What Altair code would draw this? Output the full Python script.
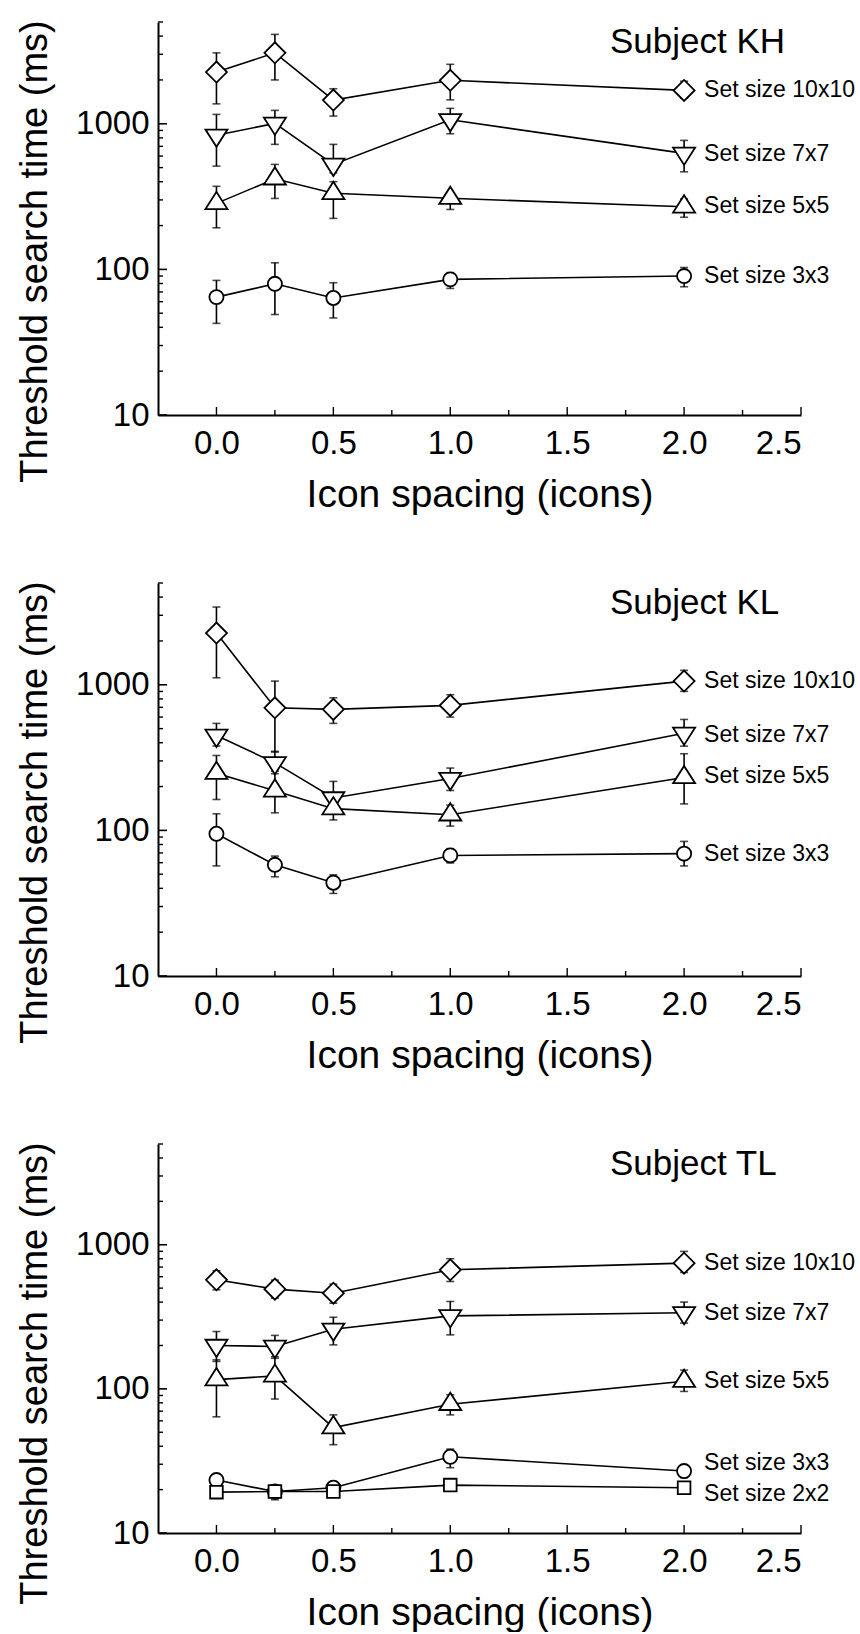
import altair as alt
import pandas as pd

FONT = "Liberation Sans"

# ---------------- data ----------------
spacing = [0.0, 0.25, 0.5, 1.0, 2.0]

# Subject KH
kh_10x10 = [2265, 3070, 1455, 1990, 1695]
kh_10x10_lo = [1370, 2000, 1130, 1460, 1500]
kh_10x10_hi = [3070, 4110, 1740, 2560, 1960]
kh_7x7 = [834, 1006, 526, 1065, 626]
kh_7x7_lo = [512, 722, 460, 854, 468]
kh_7x7_hi = [1160, 1236, 722, 1276, 769]
kh_5x5 = [284, 419, 333, 308, 269]
kh_5x5_lo = [193, 307, 224, 258, 228]
kh_5x5_hi = [372, 526, 400, 330, 305]
kh_3x3 = [64.5, 79.6, 63.6, 85.4, 90]
kh_3x3_lo = [42.6, 49, 46.4, 74, 76]
kh_3x3_hi = [84, 111, 81, 95, 103]
kh_label_at = [1695, 616, 272, 90]

# Subject KL
kl_10x10 = [2265, 695, 678, 722, 1060]
kl_10x10_lo = [1117, 345, 543, 600, 901]
kl_10x10_hi = [3419, 1060, 814, 854, 1256]
kl_7x7 = [449, 291, 167, 227, 464]
kl_7x7_lo = [380, 255, 140, 188, 379]
kl_7x7_hi = [543, 349, 217, 268, 578]
kl_5x5 = [247, 187, 141, 128, 231]
kl_5x5_lo = [163, 132, 118, 107, 152]
kl_5x5_hi = [327, 245, 165, 149, 336]
kl_3x3 = [94.8, 58, 43.7, 67.3, 69.2]
kl_3x3_lo = [57, 48, 36.9, 59.8, 57]
kl_3x3_hi = [130, 66.6, 49.5, 74.9, 84]
kl_label_at = [1060, 453, 236, 68.5]

# Subject TL
tl_10x10 = [571, 492, 461, 670, 745]
tl_10x10_lo = [487, 426, 393, 556, 642]
tl_10x10_hi = [660, 568, 533, 800, 899]
tl_7x7 = [200, 197, 259, 321, 337]
tl_7x7_lo = [155, 163, 202, 237, 286]
tl_7x7_hi = [250, 235, 314, 404, 400]
tl_5x5 = [116, 123, 53.9, 78.2, 113]
tl_5x5_lo = [64, 85, 41, 66, 96]
tl_5x5_hi = [159, 167, 66, 91, 135]
tl_3x3 = [23.3, 19.4, 20.6, 33.8, 26.9]
tl_3x3_lo = [20.4, 17.9, 18.9, 28.4, 24.2]
tl_3x3_hi = [25.2, 21.0, 22.7, 38.2, 29.6]
tl_2x2 = [19.2, 19.4, 19.4, 21.5, 20.6]
tl_2x2_lo = [17.9, 17.0, 18.4, 20.6, 20.0]
tl_2x2_hi = [20.6, 20.4, 20.4, 22.4, 21.2]
tl_label_at = [745, 337, 113, 30.4, 18.6]

# axis ticks
x_major = [0.0, 0.5, 1.0, 1.5, 2.0, 2.5]
x_minor = [0.25, 0.75, 1.25, 1.75, 2.25]
y_major = [10, 100, 1000]
y_minor = [20, 30, 40, 50, 60, 70, 80, 90,
           200, 300, 400, 500, 600, 700, 800, 900,
           2000, 3000, 4000, 5000]

TRI_UP = "M-1,0.52L1,0.52L0,-1.05Z"
TRI_DOWN = "M-1,-0.52L1,-0.52L0,1.05Z"
marker_style = {
    "10x10": ("diamond", 441),
    "7x7": (TRI_DOWN, 484),
    "5x5": (TRI_UP, 484),
    "3x3": ("circle", 200),
    "2x2": ("square", 160),
}


def make_df(series):
    rows = []
    for name, (m, lo, hi) in series.items():
        for x, a, b, c in zip(spacing, m, lo, hi):
            rows.append({"x": x, "mean": a, "lo": b, "hi": c, "size": name})
    return pd.DataFrame(rows)


def panel(title, series, label_at, h):
    df = make_df(series)
    names = list(series.keys())
    lab = pd.DataFrame({"x": [2.0] * len(names), "v": label_at,
                        "text": ["Set size " + n for n in names]})

    xs = alt.Scale(domain=[-0.25, 2.5], nice=False, zero=False)
    ys = alt.Scale(type="log", domain=[10, 5000], nice=False)
    xaxis = alt.Axis(values=x_major, format=".1f", ticks=False, grid=False,
                     labelFontSize=33, labelPadding=12,
                     title="Icon spacing (icons)", titleFontSize=39,
                     titleFontWeight="normal", titleY=91,
                     titleBaseline="alphabetic")
    yaxis = alt.Axis(values=y_major, format="d", ticks=False, grid=False,
                     labelFontSize=33, labelPadding=9,
                     title="Threshold search time (ms)", titleFontSize=38,
                     titleFontWeight="normal", titleX=-112, titleY=229,
                     titleAngle=-90, titleAlign="center",
                     titleBaseline="alphabetic")
    X = alt.X("x:Q", scale=xs, axis=xaxis)

    base = alt.Chart(df)
    lines = base.mark_line(color="black", strokeWidth=1.6).encode(
        x=X, y=alt.Y("mean:Q", scale=ys, axis=yaxis), detail="size:N")
    bars = base.mark_rule(color="black", strokeWidth=1.6).encode(
        x=X, y=alt.Y("lo:Q", scale=ys, axis=yaxis), y2="hi:Q")
    cap_lo = base.mark_tick(color="black", orient="horizontal", size=8, thickness=1.6).encode(
        x=X, y=alt.Y("lo:Q", scale=ys, axis=yaxis))
    cap_hi = base.mark_tick(color="black", orient="horizontal", size=8, thickness=1.6).encode(
        x=X, y=alt.Y("hi:Q", scale=ys, axis=yaxis))

    pts = []
    for n in names:
        shp, sz = marker_style[n]
        pts.append(alt.Chart(df[df["size"] == n]).mark_point(
            shape=shp, size=sz, filled=True, fill="white", stroke="black",
            strokeWidth=1.8, opacity=1).encode(
            x=X, y=alt.Y("mean:Q", scale=ys, axis=yaxis)))

    ymaj = alt.Chart(pd.DataFrame({"v": y_major})).mark_rule(color="black", strokeWidth=1.6).encode(
        y=alt.Y("v:Q", scale=ys, axis=yaxis), x=alt.value(0), x2=alt.value(9))
    ymin = alt.Chart(pd.DataFrame({"v": y_minor})).mark_rule(color="black", strokeWidth=1.4).encode(
        y=alt.Y("v:Q", scale=ys, axis=yaxis), x=alt.value(0), x2=alt.value(5))
    xmaj = alt.Chart(pd.DataFrame({"x": x_major})).mark_rule(color="black", strokeWidth=1.4).encode(
        x=X, y=alt.value(h), y2=alt.value(h - 8))
    xmin = alt.Chart(pd.DataFrame({"x": x_minor})).mark_rule(color="black", strokeWidth=1.4).encode(
        x=X, y=alt.value(h), y2=alt.value(h - 5))

    labels = alt.Chart(lab).mark_text(align="left", baseline="middle", dx=20,
                                      fontSize=23, font=FONT, color="black").encode(
        x=X, y=alt.Y("v:Q", scale=ys, axis=yaxis), text="text:N")
    ttl = alt.Chart(pd.DataFrame({"t": [title]})).mark_text(
        align="left", baseline="alphabetic", fontSize=35, font=FONT, color="black").encode(
        text="t:N", x=alt.value(452), y=alt.value(31))

    return alt.layer(lines, bars, cap_lo, cap_hi, ymaj, ymin, xmaj, xmin, *pts, labels, ttl
                     ).properties(width=643, height=h)


p1 = panel("Subject KH", {
    "10x10": (kh_10x10, kh_10x10_lo, kh_10x10_hi),
    "7x7": (kh_7x7, kh_7x7_lo, kh_7x7_hi),
    "5x5": (kh_5x5, kh_5x5_lo, kh_5x5_hi),
    "3x3": (kh_3x3, kh_3x3_lo, kh_3x3_hi),
}, kh_label_at, 393)

p2 = panel("Subject KL", {
    "10x10": (kl_10x10, kl_10x10_lo, kl_10x10_hi),
    "7x7": (kl_7x7, kl_7x7_lo, kl_7x7_hi),
    "5x5": (kl_5x5, kl_5x5_lo, kl_5x5_hi),
    "3x3": (kl_3x3, kl_3x3_lo, kl_3x3_hi),
}, kl_label_at, 393)

p3 = panel("Subject TL", {
    "10x10": (tl_10x10, tl_10x10_lo, tl_10x10_hi),
    "7x7": (tl_7x7, tl_7x7_lo, tl_7x7_hi),
    "5x5": (tl_5x5, tl_5x5_lo, tl_5x5_hi),
    "3x3": (tl_3x3, tl_3x3_lo, tl_3x3_hi),
    "2x2": (tl_2x2, tl_2x2_lo, tl_2x2_hi),
}, tl_label_at, 389)

chart = alt.vconcat(p1, p2, p3, spacing=168, bounds="flush").properties(
    padding={"left": 15, "top": 19, "right": 0, "bottom": 0}
).configure_view(stroke=None).configure_axis(
    domainColor="black", domainWidth=2, labelColor="black", titleColor="black",
    labelFont=FONT, titleFont=FONT
)

chart.save("out.html", embed_options={"renderer": "svg", "actions": False})
